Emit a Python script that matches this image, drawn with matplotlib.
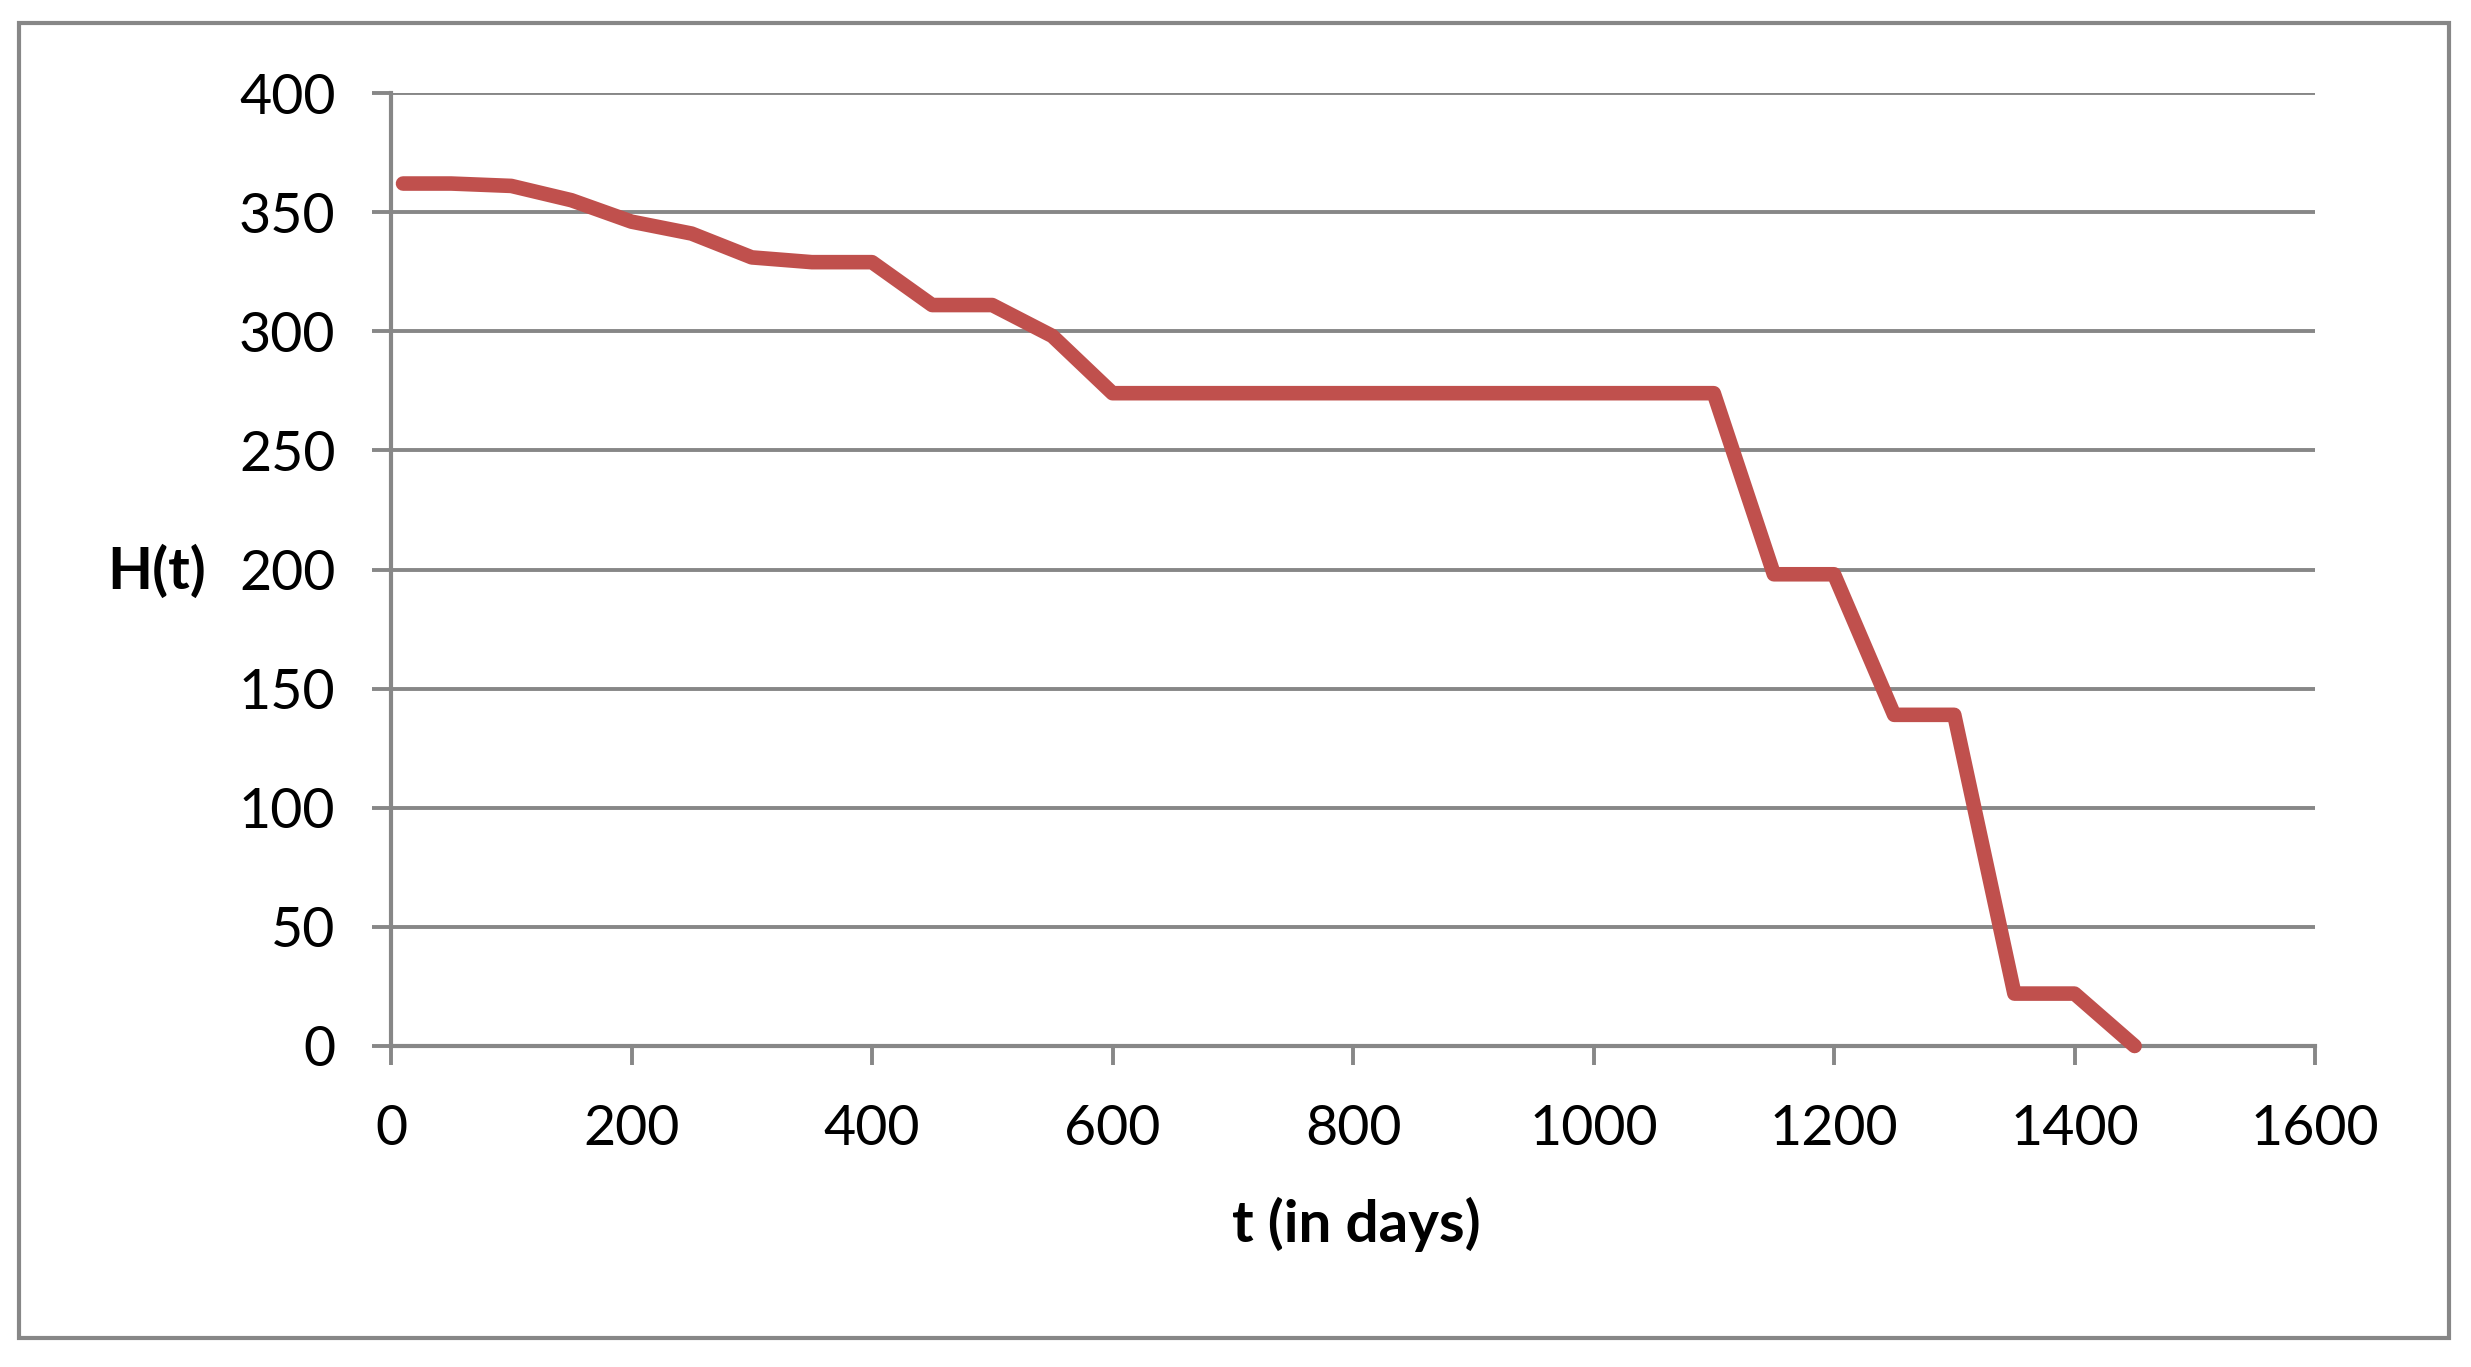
import matplotlib
matplotlib.use("Agg")
import matplotlib.pyplot as plt
from matplotlib.patches import Rectangle

# ---- data ----
days = [10, 50, 100, 150, 200, 250, 300, 350, 400, 450, 500, 550,
        600, 650, 700, 750, 800, 850, 900, 950, 1000, 1050, 1100,
        1150, 1200, 1250, 1300, 1350, 1400, 1450]
H = [362, 362, 361, 355, 346, 341, 331, 329, 329, 311, 311, 298,
     274, 274, 274, 274, 274, 274, 274, 274, 274, 274, 274,
     198, 198, 139, 139, 22, 22, 0]
x_ticks = [0, 200, 400, 600, 800, 1000, 1200, 1400, 1600]
y_ticks = [0, 50, 100, 150, 200, 250, 300, 350, 400]
x_label = "t (in days)"
y_label = "H(t)"

plt.rcParams['font.family'] = ['Lato', 'DejaVu Sans']

GRAY = '#878787'
RED = '#C0504D'

fig = plt.figure(figsize=(24.71, 13.67), dpi=100)
fig.patch.set_facecolor('white')

# outer chart border
fig.patches.append(Rectangle((19/2471, 29/1367), 2430/2471, 1315/1367,
                             transform=fig.transFigure, fill=False,
                             edgecolor=GRAY, linewidth=3.0))

ax = fig.add_axes([391/2471, 321/1367, 1924/2471, 953/1367])
ax.plot(days, H, color=RED, linewidth=10.5, solid_capstyle='round',
        solid_joinstyle='round', clip_on=False, zorder=3)

ax.set_xlim(0, 1600)
ax.set_ylim(0, 400)
ax.set_xticks(x_ticks)
ax.set_yticks(y_ticks)
ax.set_xticklabels([str(v) for v in x_ticks])
ax.set_yticklabels([str(v) for v in y_ticks])

for s in ['top', 'right']:
    ax.spines[s].set_visible(False)
for s in ['left', 'bottom']:
    ax.spines[s].set_color(GRAY)
    ax.spines[s].set_linewidth(3.0)

ax.yaxis.grid(True, color=GRAY, linewidth=2.8)
ax.set_axisbelow(True)

ax.tick_params(axis='x', direction='out', length=14, width=2.8, color=GRAY,
               labelsize=40, pad=28, labelcolor='black')
ax.tick_params(axis='y', direction='out', length=14, width=2.8, color=GRAY,
               labelsize=40, pad=26, labelcolor='black')

fig.text(1356/2471, 1 - 1224/1367, x_label, ha='center', va='center',
         fontsize=42, fontweight='bold')
fig.text(157/2471, 1 - 572/1367, y_label, ha='center', va='center',
         fontsize=42, fontweight='bold')

fig.savefig('out.png', dpi=100, facecolor='white')
